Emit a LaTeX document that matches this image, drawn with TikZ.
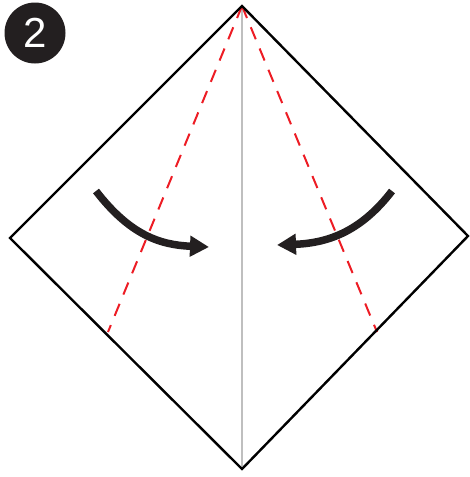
\documentclass[tikz,border=0pt]{standalone}
\usepackage{fontspec}
\setmainfont{Liberation Sans}
\usetikzlibrary{arrows.meta}
\definecolor{foldred}{HTML}{ED1C24}
\definecolor{inkblack}{HTML}{231F20}
\begin{document}
\begin{tikzpicture}[x=1pt,y=-1pt,
  edge/.style={draw=black,line width=2.4pt,line join=miter},
  valley/.style={draw=foldred,line width=2pt,dash pattern=on 13pt off 10pt},
  crease/.style={draw=black!25,line width=2.6pt},
  foldarrow/.style={draw=inkblack,line width=7.5pt,-{Triangle[length=19pt,width=20pt]}},
  badge/.style={circle,fill=inkblack,minimum size=61pt,inner sep=0pt,text=white,font=\fontsize{42}{42}\selectfont}]
\useasboundingbox (0,0) rectangle (469,477);
\coordinate (T) at (242,6);
\coordinate (L) at (10,238);
\coordinate (B) at (242,469);
\coordinate (R) at (468,236);
\coordinate (VL) at (108,332);
\coordinate (VR) at (377,332);
\draw[crease] (T) -- (B);
\draw[valley] (T) -- (VL);
\draw[valley] (T) -- (VR);
\draw[edge] (T) -- (L) -- (B) -- (R) -- cycle;
\coordinate (a1) at (96,191);
\coordinate (a2) at (209,247);
\coordinate (b1) at (392,191);
\coordinate (b2) at (277,245);
\draw[foldarrow] (a1) .. controls (130,235) and (160,245) .. (a2);
\draw[foldarrow] (b1) .. controls (362,230) and (330,243) .. (b2);
\node[badge] (n) at (35,33) {2};
\end{tikzpicture}
\end{document}
